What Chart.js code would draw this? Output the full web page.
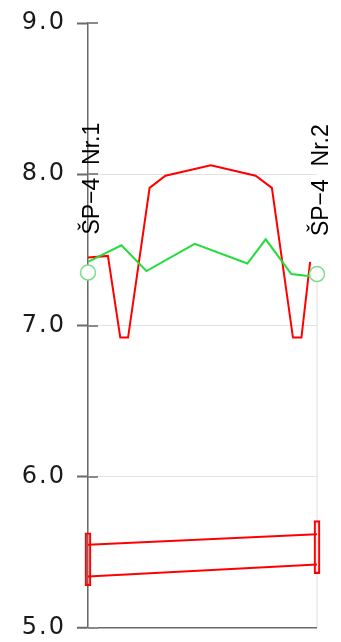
<!DOCTYPE html>
<html>
<head>
<meta charset="utf-8">
<script src="https://cdn.jsdelivr.net/npm/chart.js@4/dist/chart.umd.min.js"></script>
<style>
  html, body { margin: 0; padding: 0; background: #fff; }
  #wrap { width: 341px; height: 642px; position: relative; }
</style>
</head>
<body>
<div id="wrap"><canvas id="c"></canvas></div>
<script>
// Elevation axis ticks
const yTicks = [5, 6, 7, 8, 9];

// Red profile line (distance along section, elevation)
const redX = [0, 8.7, 14.1, 17.5, 26.9, 33.8, 53.6, 73.2, 80.3, 89.5, 93.2, 97.0];
const redY = [7.45, 7.46, 6.92, 6.92, 7.91, 7.99, 8.06, 7.99, 7.91, 6.92, 6.92, 7.42];

// Green line
const greenX = [0, 14.6, 25.5, 46.6, 69.6, 77.6, 88.8, 100];
const greenY = [7.42, 7.53, 7.36, 7.54, 7.41, 7.57, 7.34, 7.32];

// Wells
const wellNames = ['ŠP−4  Nr.1', 'ŠP−4  Nr.2'];
const wellX = [0, 100];
const wellTop = [7.35, 7.34];
const wellBottom = [5.0, 5.0];
const screenTop = [5.63, 5.71];
const screenBottom = [5.28, 5.36];
const upperLine = [5.55, 5.62];
const lowerLine = [5.34, 5.42];

const pts = (xs, ys) => xs.map((x, i) => ({ x, y: ys[i] }));

// Wider spacing for the axis numbers; well casing lines under the axes
const wellLinesPlugin = {
  id: 'wellLines',
  beforeDraw(chart) {
    const { ctx, scales: { x, y } } = chart;
    ctx.letterSpacing = '2px';
    ctx.save();
    ctx.strokeStyle = '#dddddd';
    ctx.lineWidth = 1;
    wellX.forEach((wx, i) => {
      const px = x.getPixelForValue(wx);
      ctx.beginPath();
      ctx.moveTo(px, y.getPixelForValue(wellTop[i]));
      ctx.lineTo(px, y.getPixelForValue(wellBottom[i]));
      ctx.stroke();
    });
    ctx.restore();
  }
};

// Short tick stubs on the inner side of the elevation axis
const innerTicksPlugin = {
  id: 'innerTicks',
  beforeDatasetsDraw(chart) {
    const { ctx, scales: { y } } = chart;
    const left = chart.chartArea.left;
    ctx.save();
    ctx.strokeStyle = '#8a8a8a';
    ctx.lineWidth = 2;
    yTicks.forEach(v => {
      const py = Math.round(y.getPixelForValue(v));
      ctx.beginPath();
      ctx.moveTo(left, py);
      ctx.lineTo(left + 10, py);
      ctx.stroke();
    });
    ctx.restore();
  }
};

// Vertical well names
const wellLabelsPlugin = {
  id: 'wellLabels',
  afterDatasetsDraw(chart) {
    const { ctx, scales: { x, y } } = chart;
    ctx.save();
    ctx.letterSpacing = '0px';
    ctx.font = '23px "Liberation Sans", Arial, sans-serif';
    ctx.fillStyle = '#000';
    ctx.textAlign = 'left';
    ctx.textBaseline = 'alphabetic';
    wellX.forEach((wx, i) => {
      const px = x.getPixelForValue(wx);
      const py = y.getPixelForValue(wellTop[i]) - 38;
      ctx.save();
      ctx.translate(px + 11, py);
      ctx.rotate(-Math.PI / 2);
      ctx.fillText(wellNames[i], 0, 0);
      ctx.restore();
    });
    ctx.restore();
  }
};

new Chart(document.getElementById('c'), {
  type: 'line',
  data: {
    datasets: [
      {
        type: 'scatter',
        data: pts(wellX, wellTop),
        showLine: false,
        pointRadius: 7.5,
        pointBorderWidth: 1.5,
        pointBorderColor: '#7ddc8c',
        pointBackgroundColor: '#ffffff',
        clip: false
      },
      {
        data: pts(greenX, greenY),
        borderColor: '#22dd3c',
        borderWidth: 2,
        pointRadius: 0,
        tension: 0,
        clip: false
      },
      {
        data: pts(redX, redY),
        borderColor: '#ff0000',
        borderWidth: 2,
        pointRadius: 0,
        tension: 0,
        clip: false
      },
      {
        data: pts(wellX, upperLine),
        borderColor: '#ff0000',
        borderWidth: 2,
        pointRadius: 0,
        clip: false
      },
      {
        data: pts(wellX, lowerLine),
        borderColor: '#ff0000',
        borderWidth: 2,
        pointRadius: 0,
        clip: false
      },
      {
        type: 'bar',
        data: wellX.map((wx, i) => ({ x: wx, y: [screenBottom[i], screenTop[i]] })),
        barThickness: 6,
        borderColor: '#ff0000',
        borderWidth: 1.5,
        borderSkipped: false,
        backgroundColor: 'rgba(255,255,255,0)',
        clip: false
      }
    ]
  },
  options: {
    responsive: true,
    maintainAspectRatio: false,
    animation: false,
    events: [],
    layout: { padding: { left: 0, top: 23, right: 24, bottom: 14 } },
    plugins: { legend: { display: false }, tooltip: { enabled: false } },
    scales: {
      x: {
        type: 'linear',
        min: 0,
        max: 100,
        display: false,
        offset: false,
        grid: { offset: false }
      },
      y: {
        type: 'linear',
        min: 5,
        max: 9,
        afterFit: s => { s.width = 88; s.paddingTop = 0; s.paddingBottom = 0; },
        afterBuildTicks: s => { s.ticks = yTicks.map(v => ({ value: v })); },
        border: { display: true, color: '#6a6a6a', width: 1.5 },
        grid: {
          color: c => (c.tick && c.tick.value === 9) ? 'rgba(0,0,0,0)'
                    : (c.tick && c.tick.value === 5) ? '#6a6a6a' : '#e2e2e2',
          lineWidth: c => (c.tick && c.tick.value === 5) ? 1.5 : 1,
          tickColor: '#6a6a6a',
          tickLength: 11,
          tickWidth: 2
        },
        ticks: {
          callback: v => Number(v).toFixed(1),
          color: '#1a1a1a',
          padding: 11,
          font: { family: 'DejaVu Sans', size: 24 }
        }
      }
    }
  },
  plugins: [wellLinesPlugin, innerTicksPlugin, wellLabelsPlugin]
});
</script>
</body>
</html>
